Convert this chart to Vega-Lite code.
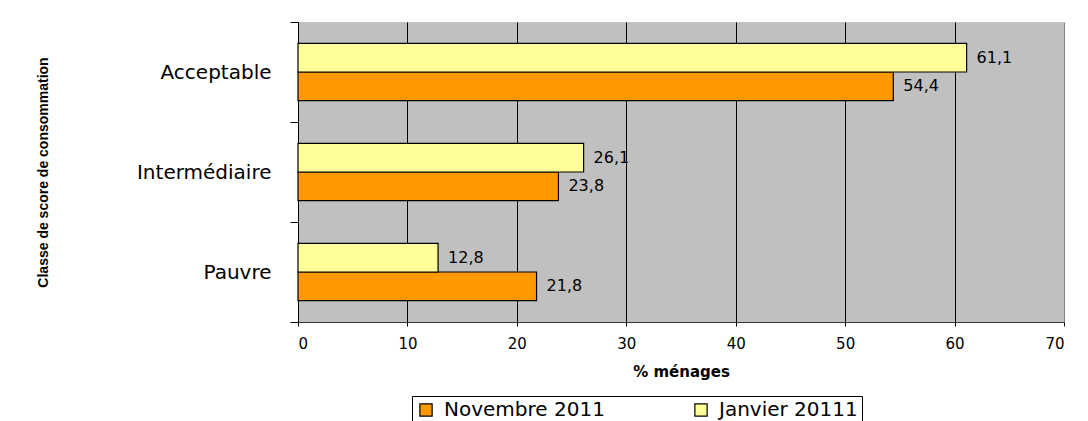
{
  "$schema": "https://vega.github.io/schema/vega-lite/v6.json",
  "autosize": "none",
  "width": 766,
  "height": 300,
  "padding": {"left": 298, "top": 22, "right": 24, "bottom": 99},
  "background": "white",
  "config": {
    "view": {"fill": "#C0C0C0", "stroke": null},
    "font": "DejaVu Sans"
  },
  "data": {
    "values": [
      {"classe": "Acceptable", "serie": "Novembre 2011", "pct": 54.4, "label": "54,4"},
      {"classe": "Acceptable", "serie": "Janvier 20111", "pct": 61.1, "label": "61,1"},
      {"classe": "Intermédiaire", "serie": "Novembre 2011", "pct": 23.8, "label": "23,8"},
      {"classe": "Intermédiaire", "serie": "Janvier 20111", "pct": 26.1, "label": "26,1"},
      {"classe": "Pauvre", "serie": "Novembre 2011", "pct": 21.8, "label": "21,8"},
      {"classe": "Pauvre", "serie": "Janvier 20111", "pct": 12.8, "label": "12,8"}
    ]
  },
  "encoding": {
    "y": {
      "field": "classe",
      "type": "nominal",
      "sort": ["Acceptable", "Intermédiaire", "Pauvre"],
      "scale": {"paddingInner": 0, "paddingOuter": 0},
      "axis": {
        "title": "Classe de score de consommation",
        "titleFont": "Liberation Sans",
        "titleFontSize": 14,
        "titleFontWeight": "bold",
        "titleColor": "black",
        "titleX": -255,
        "titleY": 150,
        "titleAlign": "center",
        "titleBaseline": "middle",
        "titleAngle": -90,
        "labelFontSize": 20,
        "labelColor": "black",
        "labelPadding": 19,
        "tickBand": "extent",
        "tickSize": 8,
        "tickColor": "black",
        "domainColor": "black",
        "grid": false
      }
    },
    "yOffset": {
      "field": "serie",
      "type": "nominal",
      "sort": ["Janvier 20111", "Novembre 2011"],
      "scale": {"paddingInner": 0, "paddingOuter": 0.75}
    },
    "x": {
      "field": "pct",
      "type": "quantitative",
      "scale": {"domain": [0, 70], "nice": false},
      "axis": {
        "values": [0, 10, 20, 30, 40, 50, 60, 70],
        "title": "% ménages",
        "titleFontSize": 15,
        "titleFontWeight": "bold",
        "titleColor": "black",
        "titlePadding": 13,
        "labelFontSize": 15,
        "labelColor": "black",
        "labelPadding": 10,
        "tickSize": 4,
        "tickColor": "black",
        "domainColor": "#333333",
        "grid": true,
        "gridColor": {"condition": {"test": "datum.value == 70", "value": "#808080"}, "value": "black"},
        "gridOpacity": 1
      }
    }
  },
  "layer": [
    {
      "mark": {"type": "bar", "stroke": "black", "strokeWidth": 1.2},
      "encoding": {
        "color": {
          "field": "serie",
          "type": "nominal",
          "scale": {"domain": ["Novembre 2011", "Janvier 20111"], "range": ["#FF9900", "#FFFF99"]},
          "legend": {
            "title": null,
            "orient": "none",
            "legendX": 114,
            "legendY": 374,
            "direction": "horizontal",
            "strokeColor": "black",
            "fillColor": "white",
            "padding": 4,
            "symbolType": "square",
            "symbolSize": 150,
            "symbolStrokeColor": "black",
            "symbolStrokeWidth": 1.2,
            "symbolOpacity": 1,
            "labelFontSize": 20,
            "labelColor": "black",
            "labelOffset": 8,
            "columnPadding": 86,
            "labelLimit": 400
          }
        }
      }
    },
    {
      "mark": {"type": "text", "align": "left", "baseline": "middle", "dx": 10, "fontSize": 16, "color": "black"},
      "encoding": {"text": {"field": "label"}}
    }
  ]
}
